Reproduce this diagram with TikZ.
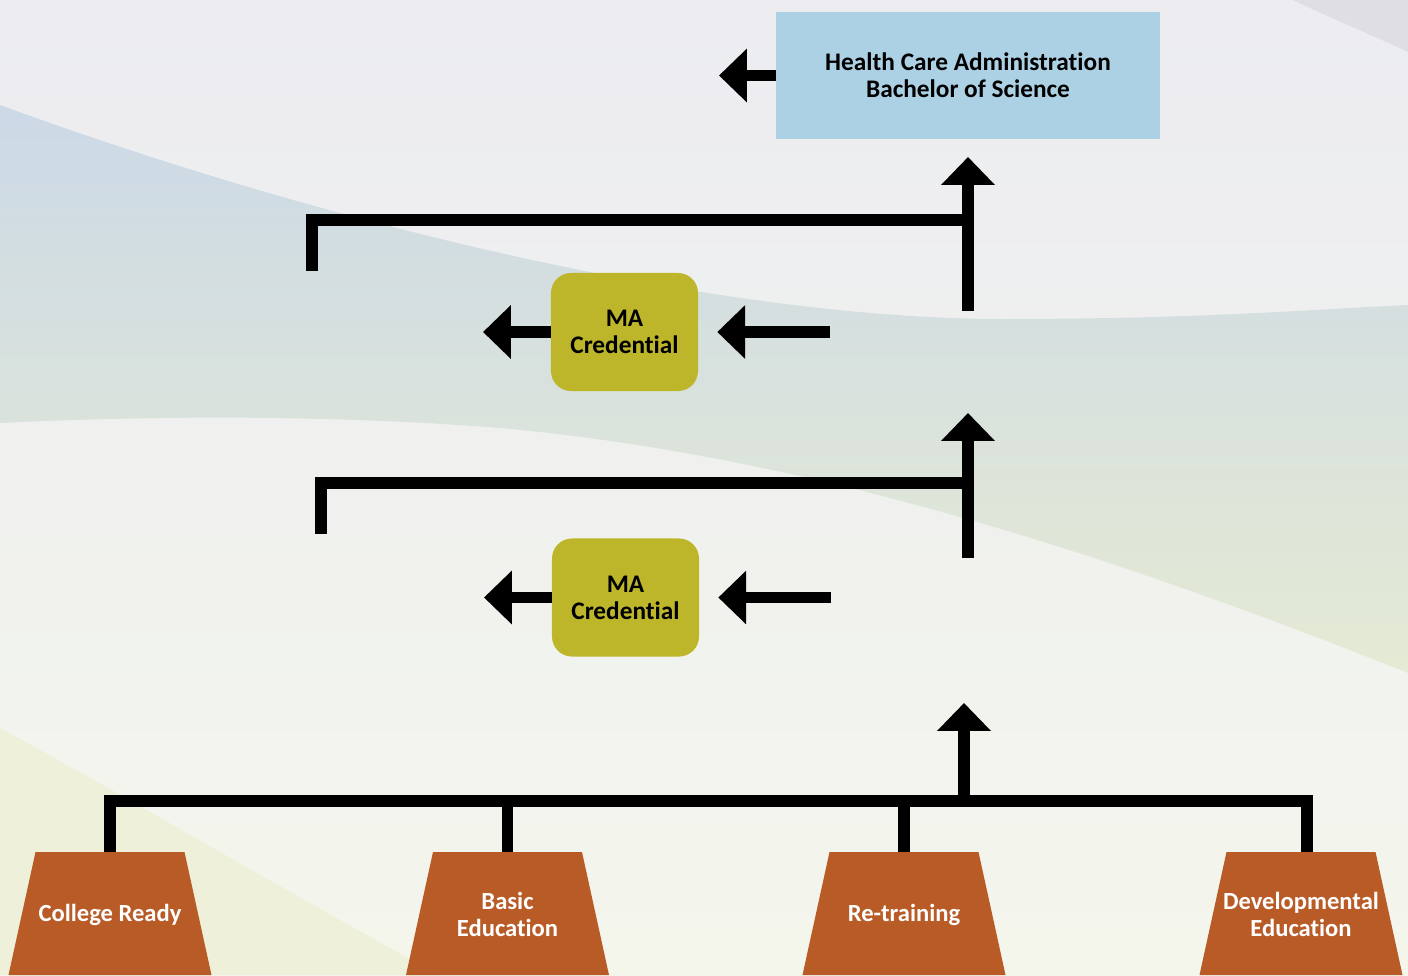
\documentclass[tikz,border=0pt]{standalone}
\usepackage{fontspec}
\setmainfont{Carlito}[Ligatures=NoCommon]
\usetikzlibrary{arrows.meta, positioning, calc}

\definecolor{bscblue}{HTML}{ADD1E4}
\definecolor{maolive}{HTML}{BDB62A}
\definecolor{entryorange}{HTML}{B95B27}
\definecolor{bgtopcol}{HTML}{ECECF1}
\definecolor{bgbotcol}{HTML}{F4F6EC}
\definecolor{bandblue}{HTML}{CCD9E6}
\definecolor{bandmid}{HTML}{D5DFE1}
\definecolor{bandgreen}{HTML}{E5EAD4}
\definecolor{yellowwash}{HTML}{EEF0DA}
\definecolor{cornergrey}{HTML}{DEDEE4}

\begin{document}
\begin{tikzpicture}[
    x=0.025cm, y=-0.025cm,
    % Styles
    bar/.style={line width=8.5pt, draw=black, line join=miter},
    goto/.style={bar, -{Triangle[length=19.8pt, width=37pt]}},
    degree/.style={fill=bscblue, minimum width=9.6cm, minimum height=3.175cm, align=center,
      font=\bfseries\fontsize{18}{19.2}\selectfont},
    credential/.style={fill=maolive, rounded corners=0.5cm, minimum width=3.675cm,
      minimum height=2.95cm, align=center, font=\bfseries\fontsize{18}{19.2}\selectfont},
    entry/.style={text=white, align=center, inner sep=0pt,
      font=\bfseries\fontsize{17.5}{19.2}\selectfont},
  ]
  \useasboundingbox (0,0) rectangle (1408,975);

  % 0) Background washes
  \shade[top color=bgtopcol, bottom color=bgbotcol] (0,0) rectangle (1408,975);
  \shade[top color=bandblue, middle color=bandmid, bottom color=bandgreen]
  (0,105) .. controls (300,215) and (700,318) .. (1000,319)
  .. controls (1200,319) and (1300,310) .. (1408,305)
  -- (1408,673) .. controls (1100,550) and (800,455) .. (500,428)
  .. controls (300,412) and (100,418) .. (0,423) -- cycle;
  \fill[yellowwash] (0,728) .. controls (150,810) and (300,900) .. (440,975) -- (0,975) -- cycle;
  \fill[cornergrey] (1293,0) .. controls (1330,18) and (1370,34) .. (1408,52) -- (1408,0) -- cycle;

  % 1) Degree at the top
  \node[degree] (bsc) at (968,75.5) {Health Care Administration\\Bachelor of Science};
  \coordinate (bscout) at (719,75.5);
  \draw[goto] (bsc.west) -- (bscout);

  % 2) Upper credential step
  \node[credential] (ma1) at (624.5,332) {MA\\Credential};
  \coordinate (ma1out) at (483,332);
  \coordinate (ma1in) at (830,332);
  \draw[goto] (ma1.west) -- (ma1out);
  \draw[goto, shorten >=0.475cm] (ma1in) -- (ma1.east);

  \coordinate (up1foot) at (968,311);
  \coordinate (up1tip) at (968,157);
  \coordinate (br1r) at (968,220);
  \coordinate (br1l) at (312,220);
  \coordinate (br1end) at (312,271);
  \draw[bar] (br1r) -- (br1l) -- (br1end);
  \draw[goto] (up1foot) -- (up1tip);

  % 3) Lower credential step
  \node[credential] (ma2) at (625.5,597.5) {MA\\Credential};
  \coordinate (ma2out) at (484,597.5);
  \coordinate (ma2in) at (831,597.5);
  \draw[goto] (ma2.west) -- (ma2out);
  \draw[goto, shorten >=0.475cm] (ma2in) -- (ma2.east);

  \coordinate (up2foot) at (968,558);
  \coordinate (up2tip) at (968,413);
  \coordinate (br2r) at (968,483);
  \coordinate (br2l) at (321,483);
  \coordinate (br2end) at (321,534);
  \draw[bar] (br2r) -- (br2l) -- (br2end);
  \draw[goto] (up2foot) -- (up2tip);

  % 4) Entry points (trapezoids run off the bottom edge)
  \foreach \nm/\cx/\txt in {cready/110/{College Ready}, basic/507.5/{Basic\\Education},
      retrain/904/{Re-training}, devel/1301/{Developmental\\Education}} {
    \fill[entryorange] (\cx-74.5,852) -- (\cx+74.5,852) -- (\cx+101.5,975)
    -- (\cx-101.5,975) -- cycle;
    \node[entry] (\nm) at (\cx,914.5) {\txt};
    \coordinate (\nm-top) at (\cx,852);
  }

  \coordinate (bus) at (964,801);
  \coordinate (up3tip) at (964,703);
  \draw[bar] (cready-top) -- (cready-top |- bus) -- ($(devel-top |- bus)+(6,0)$)
  -- ($(devel-top)+(6,0)$);
  \draw[bar] (basic-top) -- (basic-top |- bus);
  \draw[bar] (retrain-top) -- (retrain-top |- bus);
  \draw[goto] (bus) -- (up3tip);
\end{tikzpicture}
\end{document}
